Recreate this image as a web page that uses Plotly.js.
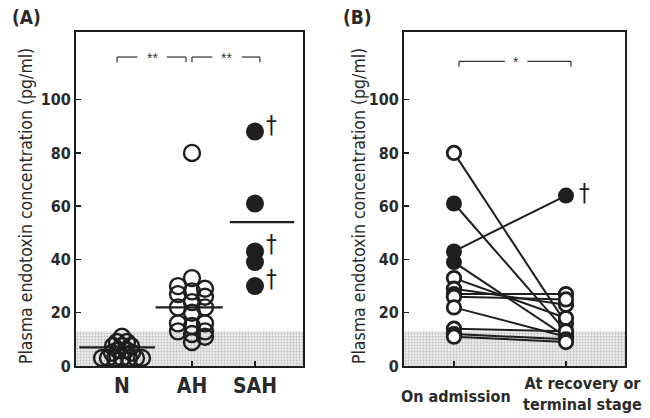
<!DOCTYPE html>
<html><head><meta charset="utf-8">
<script src="https://cdn.plot.ly/plotly-3.0.1.min.js"></script>
<style>html,body{margin:0;padding:0;background:#fff}#plot{width:650px;height:418px}</style>
</head><body><div id="plot"></div>
<script>
// ---- Data ----
const categoriesA = ['N', 'AH', 'SAH'];
const nValues   = [3, 3, 3, 3, 3, 3, 3, 5, 5, 6, 6, 7.5, 7.5, 7.5, 9, 9, 11];
const nJitterPx = [-20, -14, -7, 0, 7, 14, 20, -10, 10, -4, 4, -9, 0, 9, -5, 5, 0];
const ahValues  = [30, 27, 22, 16, 13, 33, 28, 24, 20, 15, 12, 9, 29, 26, 22, 16, 13, 11, 80];
const ahJitterPx = [-14, -14, -14, -14, -14, 0, 0, 0, 0, 0, 0, 0, 13, 13, 13, 13, 13, 13, 0];
const sahValues = [88, 61, 43, 39, 30];
const sahDead   = [true, false, true, false, true];
const groupMeans = [7, 22, 54];
const normalUpper = 13;

const categoriesB = ['On admission', 'At recovery or<br>terminal stage'];
const admission = [80, 61, 43, 39, 33, 29, 27, 26, 22, 14, 12, 11];
const recovery  = [16, 13, 64, 11, 18, 23, 27, 25, 11, 13, 10, 9];
const admissionFilled = [false, true, true, true, false, false, false, false, false, false, false, false];
const recoveryFilled  = [false, false, true, false, false, false, false, false, false, false, false, false];
const recoveryDead    = [false, false, true, false, false, false, false, false, false, false, false, false];

const yTicks = [0, 20, 40, 60, 80, 100];
const yTitle = 'Plasma endotoxin concentration (pg/ml)';

// ---- Layout helpers ----
const W = 650, H = 418;
const pxA = 70;           // px per x unit, panel A
const posA = [0, 1, 1.9]; // x positions of categories A
const posB = [0, 1];
const FONT = '"DejaVu Sans Condensed", "DejaVu Sans", sans-serif';
const SYM = '"Liberation Sans", Arial, sans-serif';
const dark = '#1e1e1e';
const txt = '#2a2a2a';

const traces = [];
// normal range band (panel A and B)
['x', 'x2'].forEach((xa, i) => {
  const r = i === 0 ? [-0.657, 2.586] : [-0.446, 1.527];
  traces.push({x: [r[0], r[1], r[1], r[0], r[0]], y: [0, 0, normalUpper, normalUpper, 0],
    xaxis: xa, yaxis: i === 0 ? 'y' : 'y2', mode: 'lines', fill: 'toself', line: {width: 0},
    fillcolor: '#e8e8e8',
    fillpattern: {shape: '.', size: 3, solidity: 0.3, fgcolor: '#bdbdbd', bgcolor: '#ececec'},
    hoverinfo: 'skip', showlegend: false});
});

// mean lines A
const meanHalf = [0.54, 0.48, 0.46];
const meanOff = [-0.07, -0.04, 0.1];
groupMeans.forEach((m, i) => {
  traces.push({x: [posA[i] + meanOff[i] - meanHalf[i], posA[i] + meanOff[i] + meanHalf[i]], y: [m, m],
    mode: 'lines', line: {color: dark, width: 2.2}, xaxis: 'x', yaxis: 'y', showlegend: false, hoverinfo: 'skip'});
});

// N and AH open circles
traces.push({x: nValues.map((v, i) => posA[0] + nJitterPx[i] / pxA), y: nValues, mode: 'markers',
  marker: {symbol: 'circle-open', size: 16, color: dark, line: {width: 2.4, color: dark}},
  xaxis: 'x', yaxis: 'y', showlegend: false});
traces.push({x: ahValues.map((v, i) => posA[1] + ahJitterPx[i] / pxA), y: ahValues, mode: 'markers',
  marker: {symbol: 'circle-open', size: 16, color: dark, line: {width: 2.4, color: dark}},
  xaxis: 'x', yaxis: 'y', showlegend: false});
traces.push({x: sahValues.map(() => posA[2]), y: sahValues, mode: 'markers',
  marker: {symbol: 'circle', size: 18, color: dark, line: {width: 0}},
  xaxis: 'x', yaxis: 'y', showlegend: false});

// panel B paired lines
const lx = [], ly = [];
admission.forEach((a, i) => { lx.push(posB[0], posB[1], null); ly.push(a, recovery[i], null); });
traces.push({x: lx, y: ly, mode: 'lines', line: {color: dark, width: 2}, xaxis: 'x2', yaxis: 'y2', showlegend: false, hoverinfo: 'skip'});
function bMarkers(vals, pos, filledArr) {
  const op = [], fp = [];
  vals.forEach((v, i) => (filledArr[i] ? fp : op).push(v));
  traces.push({x: op.map(() => pos), y: op, mode: 'markers',
    marker: {symbol: 'circle', size: 13.5, color: '#fff', line: {width: 2.8, color: dark}},
    xaxis: 'x2', yaxis: 'y2', showlegend: false});
  traces.push({x: fp.map(() => pos), y: fp, mode: 'markers',
    marker: {symbol: 'circle', size: 16, color: dark, line: {width: 0}},
    xaxis: 'x2', yaxis: 'y2', showlegend: false});
}
bMarkers(admission, posB[0], admissionFilled);
bMarkers(recovery, posB[1], recoveryFilled);

// ---- shapes: brackets ----
const shapes = [];
function seg(xref, yref, x0, y0, x1, y1) {
  shapes.push({type: 'line', xref, yref, x0, y0, x1, y1, line: {color: '#333', width: 1.2}});
}
function bracket(xref, yref, xa, xb, gapA, gapB, y, drop) {
  seg(xref, yref, xa, y, gapA, y); seg(xref, yref, gapB, y, xb, y);
  seg(xref, yref, xa, y, xa, y - drop); seg(xref, yref, xb, y, xb, y - drop);
}
bracket('x', 'y', -0.07, 0.914, 0.22, 0.64, 116, 2);
bracket('x', 'y', 1.0, 1.97, 1.29, 1.71, 116, 2);
bracket('x2', 'y2', 0.045, 1.045, 0.455, 0.655, 114.4, 2);

// ---- annotations ----
const annotations = [];
annotations.push({xref: 'paper', yref: 'paper', x: 10 / W, y: 1 - 17 / H, text: '<b>(A)</b>', showarrow: false,
  xanchor: 'left', yanchor: 'middle', font: {family: FONT, size: 19, color: txt}});
annotations.push({xref: 'paper', yref: 'paper', x: 341 / W, y: 1 - 17 / H, text: '<b>(B)</b>', showarrow: false,
  xanchor: 'left', yanchor: 'middle', font: {family: FONT, size: 19, color: txt}});
// y-axis titles
[26, 359].forEach(px => annotations.push({xref: 'paper', yref: 'paper', x: px / W, y: 1 - 206 / H, text: yTitle,
  textangle: -90, showarrow: false, xanchor: 'center', yanchor: 'middle', font: {family: FONT, size: 17.5, color: txt}}));
annotations.push({xref: 'x', yref: 'y', x: 0.43, y: 115.6, text: '**', showarrow: false, font: {family: SYM, size: 14, color: '#333'}});
annotations.push({xref: 'x', yref: 'y', x: 1.5, y: 115.6, text: '**', showarrow: false, font: {family: SYM, size: 14, color: '#333'}});
annotations.push({xref: 'x2', yref: 'y2', x: 0.555, y: 114.0, text: '*', showarrow: false, font: {family: SYM, size: 14, color: '#333'}});
sahValues.forEach((v, i) => {
  if (sahDead[i]) annotations.push({xref: 'x', yref: 'y', x: posA[2] + 17 / pxA, y: v, yshift: 7, text: '†',
    showarrow: false, font: {family: FONT, size: 24, color: dark}});
});
recovery.forEach((v, i) => {
  if (recoveryDead[i]) annotations.push({xref: 'x2', yref: 'y2', x: posB[1], xshift: 19, y: v, yshift: 3, text: '†',
    showarrow: false, font: {family: FONT, size: 24, color: dark}});
});
annotations.push({xref: 'x2', yref: 'paper', x: posB[0], xshift: 2, y: 1 - 396 / H, text: '<b>' + categoriesB[0] + '</b>', showarrow: false,
  yanchor: 'middle', font: {family: FONT, size: 16, color: txt}});
annotations.push({xref: 'x2', yref: 'paper', x: posB[1], xshift: 17, y: 1 - 394 / H, text: '<b>' + categoriesB[1].replace('<br>', '</b><br><b>') + '</b>', showarrow: false,
  yanchor: 'middle', font: {family: FONT, size: 16, color: txt}});

const yDom = [1 - 366 / H, 1 - 32 / H];
const axisCommon = {showline: true, mirror: true, linewidth: 2, linecolor: dark, zeroline: false, showgrid: false,
  ticks: 'inside', ticklen: 5, tickwidth: 1.5, tickcolor: dark};
const yCommon = Object.assign({}, axisCommon, {range: [0, 125.4], tickvals: yTicks,
  tickfont: {family: FONT, size: 16, color: txt, weight: 'bold'}, domain: yDom});

const layout = {
  width: W, height: H, margin: {l: 0, r: 0, t: 0, b: 0}, paper_bgcolor: '#fff', plot_bgcolor: 'rgba(0,0,0,0)',
  showlegend: false,
  xaxis: Object.assign({}, axisCommon, {domain: [76 / W, 303 / W], range: [-0.657, 2.586], tickvals: posA,
    ticktext: categoriesA, tickfont: {family: FONT, size: 21, color: txt, weight: 'bold'}}),
  yaxis: Object.assign({}, yCommon, {anchor: 'x'}),
  xaxis2: Object.assign({}, axisCommon, {domain: [404 / W, 625 / W], range: [-0.446, 1.527], tickvals: posB,
    showticklabels: false, anchor: 'y2'}),
  yaxis2: Object.assign({}, yCommon, {anchor: 'x2'}),
  shapes, annotations
};
Plotly.newPlot('plot', traces, layout, {displayModeBar: false, staticPlot: true});
</script></body></html>
